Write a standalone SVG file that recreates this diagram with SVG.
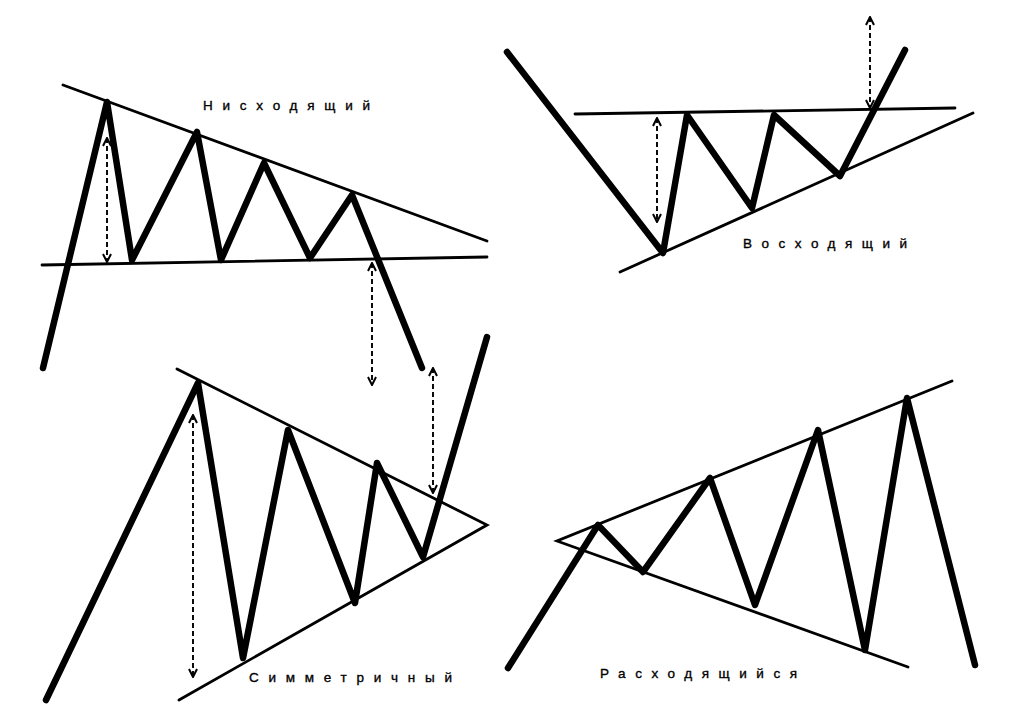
<svg xmlns="http://www.w3.org/2000/svg" width="1024" height="718" viewBox="0 0 1024 718">
<style>
.price{fill:none;stroke:#000;stroke-width:6.5;stroke-linejoin:round;stroke-linecap:round}
.trend{fill:none;stroke:#000;stroke-width:2.8;stroke-linecap:round}
.meas{fill:none;stroke:#000;stroke-width:1.9;stroke-dasharray:5 3;marker-start:url(#ah);marker-end:url(#ah)}
.lbl{font-family:"Liberation Sans",Arial,sans-serif;font-size:13.5px;fill:#000;stroke:#000;stroke-width:0.35}
</style>
<defs>
<marker id="ah" viewBox="0 0 10 10" refX="9" refY="5" markerWidth="10" markerHeight="10" markerUnits="userSpaceOnUse" orient="auto-start-reverse">
<path d="M1,1 L9,5 L1,9" fill="none" stroke="#000" stroke-width="2"/>
</marker>
</defs>
<rect width="1024" height="718" fill="#fff"/>
<g id="descending">
<line class="trend" x1="63" y1="85" x2="487" y2="241"/>
<line class="trend" x1="42" y1="265" x2="487" y2="257"/>
<polyline class="price" points="43,368 107,102 132,260 197,132 221,260 264,163 310,258 352,195 422,368"/>
<text class="lbl" x="203" y="110" textLength="167" lengthAdjust="spacing">Нисходящий</text>
</g>
<g id="ascending">
<line class="trend" x1="575" y1="114" x2="955" y2="108"/>
<line class="trend" x1="620" y1="272" x2="973" y2="113"/>
<polyline class="price" points="507,52 663,253 687,115 752,208 774,115 840,176 905,50"/>
<text class="lbl" x="743" y="248" textLength="164" lengthAdjust="spacing">Восходящий</text>
</g>
<g id="symmetric">
<polyline class="trend" points="177,369 487,525 179,700"/>
<polyline class="price" points="46,700 198,383 243,658 288,430 355,603 377,463 423,557 487,337"/>
<text class="lbl" x="249" y="682" textLength="203" lengthAdjust="spacing">Симметричный</text>
</g>
<g id="broadening">
<polyline class="trend" points="952,381 557,541 908,667"/>
<polyline class="price" points="508,668 598,525 643,572 710,478 755,605 818,430 865,650 907,398 975,665"/>
<text class="lbl" x="600" y="678" textLength="197" lengthAdjust="spacing">Расходящийся</text>
</g>
<g id="connectors">
<line class="meas" x1="107" y1="138" x2="107" y2="262"/>
<line class="meas" x1="372" y1="263" x2="372" y2="385"/>
<line class="meas" x1="657" y1="118" x2="657" y2="222"/>
<line class="meas" x1="870" y1="17" x2="870" y2="108"/>
<line class="meas" x1="193" y1="415" x2="193" y2="677"/>
<line class="meas" x1="433" y1="368" x2="433" y2="493"/>
</g>
</svg>
